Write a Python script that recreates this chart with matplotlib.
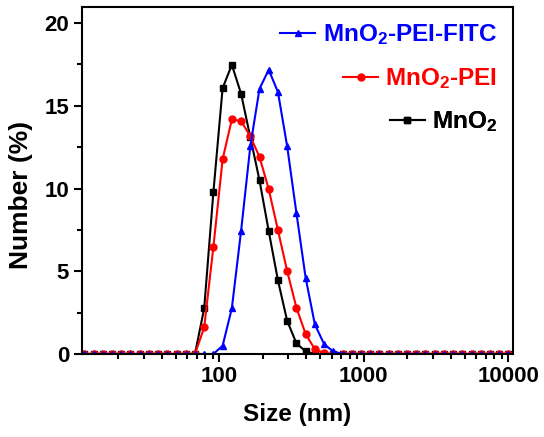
from matplotlib import pyplot as plt
from matplotlib import ticker
from matplotlib.lines import Line2D

plt.rcParams['font.family'] = ['Liberation Sans', 'DejaVu Sans']
plt.rcParams['font.weight'] = 'bold'
plt.rcParams['mathtext.fontset'] = 'custom'
plt.rcParams['mathtext.rm'] = 'Liberation Sans:bold'
plt.rcParams['mathtext.bf'] = 'Liberation Sans:bold'
plt.rcParams['mathtext.default'] = 'bf'

# Размеры (нм) - бины прибора
sizes = [11.70, 13.54, 15.69, 18.17, 21.04, 24.36, 28.21, 32.67, 37.84, 43.82,
         50.75, 58.77, 68.06, 78.82, 91.28, 105.7, 122.4, 141.8, 164.2, 190.1,
         220.2, 255.0, 295.3, 342.0, 396.1, 458.7, 531.2, 615.1, 712.4, 825.0,
         955.4, 1106, 1281, 1484, 1718, 1990, 2305, 2669, 3091, 3580,
         4145, 4801, 5560, 6439, 7456, 8635, 10000]

mno2 = [0, 0, 0, 0, 0, 0, 0, 0, 0, 0,
        0, 0, 0, 2.76, 9.8, 16.07, 17.48, 15.73, 13.1, 10.5,
        7.42, 4.45, 2.0, 0.65, 0.15, 0, 0, 0, 0, 0,
        0, 0, 0, 0, 0, 0, 0, 0, 0, 0,
        0, 0, 0, 0, 0, 0, 0]

mno2_pei = [0, 0, 0, 0, 0, 0, 0, 0, 0, 0,
            0, 0, 0, 1.61, 6.48, 11.77, 14.18, 14.08, 13.16, 11.91,
            9.96, 7.48, 5.01, 2.8, 1.21, 0.28, 0.05, 0, 0, 0,
            0, 0, 0, 0, 0, 0, 0, 0, 0, 0,
            0, 0, 0, 0, 0, 0, 0]

mno2_pei_fitc = [0, 0, 0, 0, 0, 0, 0, 0, 0, 0,
                 0, 0, 0, 0, 0, 0.5, 2.76, 7.44, 12.55, 16.03,
                 17.18, 15.83, 12.55, 8.53, 4.61, 1.79, 0.6, 0.15, 0, 0,
                 0, 0, 0, 0, 0, 0, 0, 0, 0, 0,
                 0, 0, 0, 0, 0, 0, 0]

labels = [r'MnO$_2$', r'MnO$_2$-PEI', r'MnO$_2$-PEI-FITC']
colors = ['black', '#ff0000', '#0000ff']
markers = ['s', 'o', '^']

fig = plt.figure(figsize=(5.44, 4.37), dpi=100)
ax = fig.add_axes([0.150, 0.190, 0.7925, 0.795])

for values, label, color, marker in zip([mno2, mno2_pei, mno2_pei_fitc], labels, colors, markers):
    ax.plot(sizes, values, color=color, marker=marker, markersize=5, linewidth=1.5, label=label)

ax.set_xscale('log')
ax.set_xlim(11.2, 10700)
ax.set_ylim(0, 21)
ax.set_xticks([100, 1000, 10000])
ax.xaxis.set_major_formatter(ticker.FuncFormatter(lambda v, p: f'{int(v)}'))
ax.xaxis.set_minor_formatter(ticker.NullFormatter())
ax.set_yticks([0, 5, 10, 15, 20])
ax.yaxis.set_minor_locator(ticker.MultipleLocator(2.5))

for s in ax.spines.values():
    s.set_linewidth(1.5)
ax.tick_params(which='major', direction='out', length=6, width=1.5, labelsize=16, pad=3)
ax.tick_params(which='minor', direction='out', length=3.5, width=1.5)

ax.set_xlabel('Size (nm)', fontsize=17.5, fontweight='bold', labelpad=11)
ax.set_ylabel('Number (%)', fontsize=19, fontweight='bold')
ax.yaxis.set_label_coords(-0.113, 0.458)

# Легенда: каждая строка выравнивается по правому краю
rows = [(2, 0.918), (1, 0.792), (0, 0.669)]
for i, y in rows:
    h = Line2D([], [], color=colors[i], marker=markers[i], markersize=5, linewidth=1.5)
    leg = ax.legend([h], [labels[i]], loc='center right', bbox_to_anchor=(0.964, y),
                    frameon=False, fontsize=17.5, handlelength=1.45, handletextpad=0.3,
                    borderpad=0, borderaxespad=0, labelcolor=colors[i])
    ax.add_artist(leg)

fig.savefig('out.png', dpi=100)
